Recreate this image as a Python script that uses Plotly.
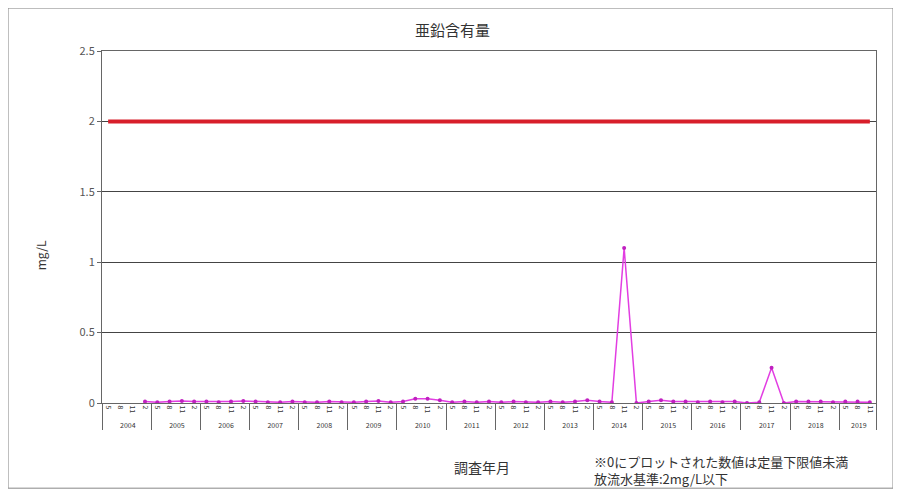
import plotly.graph_objects as go

# --- data -------------------------------------------------------------------
years = [f"{y}" for y in range(2004, 2020)]
months = ["5", "8", "11", "2"]

# quarterly survey points (last year only has three)
year_labels = [y for y in years for _ in months][:63]
month_labels = [m for _ in years for m in months][:63]

zinc = [None, None, None,
        0.01, 0.005, 0.01, 0.015, 0.01, 0.01, 0.005, 0.01, 0.015, 0.01,
        0.005, 0.005, 0.01, 0.005, 0.005, 0.01, 0.005, 0.005, 0.01, 0.015,
        0.005, 0.01, 0.03, 0.03, 0.02, 0.005, 0.01, 0.005, 0.01, 0.005,
        0.01, 0.005, 0.005, 0.01, 0.005, 0.01, 0.02, 0.01, 0.005, 1.1,
        0.0, 0.01, 0.02, 0.01, 0.01, 0.005, 0.01, 0.005, 0.01, 0.0,
        0.005, 0.25, 0.0, 0.01, 0.01, 0.01, 0.005, 0.01, 0.01, 0.005]
standard = [2.0] * len(zinc)

FONT = "Noto Sans CJK JP, Noto Sans, sans-serif"

# page body has an 8px margin, so the figure is sized/offset for that
fig = go.Figure()
fig.add_trace(go.Scatter(
    x=[year_labels, month_labels], y=standard, mode="lines",
    line=dict(color="#d81e2a", width=4), showlegend=False))
fig.add_trace(go.Scatter(
    x=[year_labels, month_labels], y=zinc, mode="lines+markers",
    line=dict(color="#e23ee2", width=1.5),
    marker=dict(color="#c020c0", size=4), showlegend=False))


def note(text, x, y, size, anchor="center", angle=0):
    return dict(text=text, xref="paper", yref="paper", x=x, y=y,
                xanchor=anchor, yanchor="middle", textangle=angle, align="left",
                showarrow=False, font=dict(size=size, color="#333"))


fig.update_layout(
    width=885, height=482,
    margin=dict(l=94, r=17, t=43, b=87),
    paper_bgcolor="white", plot_bgcolor="white",
    font=dict(family=FONT, color="#333"),
    annotations=[
        note("亜鉛含有量", 0.453, 1.06, 15),
        note("mg/L", -0.080, 0.42, 12, angle=-90),
        note("調査年月", 0.491, -0.182, 14),
        note("※0にプロットされた数値は定量下限値未満<br>放流水基準:2mg/L以下",
             0.633, -0.189, 13, "left"),
    ],
    shapes=[
        dict(type="rect", xref="paper", yref="paper",
             x0=-0.1214, x1=1.022, y0=-0.242, y1=1.122,
             line=dict(color="#888", width=1)),
    ],
)
fig.update_yaxes(
    range=[0, 2.5], dtick=0.5, showgrid=True, gridcolor="#444", gridwidth=1,
    showline=True, linecolor="#666", mirror=True, ticks="outside",
    ticklen=4, tickcolor="#666", zeroline=False,
    tickfont=dict(size=11, color="#555"))
fig.update_xaxes(
    type="multicategory", range=[-0.5, len(zinc) - 0.5], showgrid=False,
    showline=True, linecolor="#666", mirror=True, tickangle=90,
    tickfont=dict(size=7, color="#333"),
    showdividers=True, dividercolor="#666")

fig.write_html("out.html")
